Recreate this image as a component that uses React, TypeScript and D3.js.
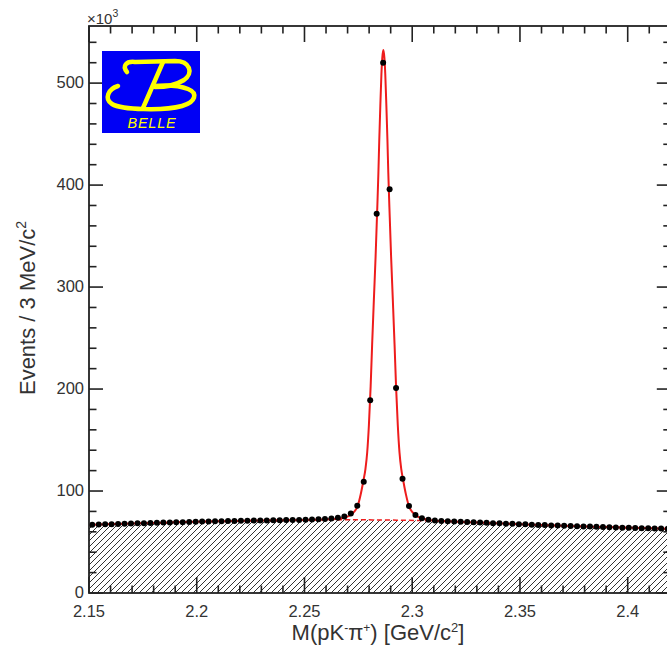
import React from "react";
import * as d3 from "d3";

const W = 667;
const H = 655;

// Histogram: 3 MeV bins starting at 2.150 GeV, counts in units of 10^3
const BIN_START = 2.15;
const BIN_WIDTH = 0.003;
const binCounts = [
  66.9, 67.1, 67.3, 67.5, 67.7, 67.9, 68.1, 68.3, 68.5, 68.7,
  68.9, 69.1, 69.2, 69.4, 69.5, 69.7, 69.8, 70.0, 70.1, 70.3,
  70.4, 70.5, 70.7, 70.8, 70.9, 71.0, 71.1, 71.2, 71.3, 71.4,
  71.5, 71.6, 71.7, 71.8, 72.0, 72.2, 72.5, 73.0, 73.7, 75.0,
  78.0, 85.5, 109, 189, 372, 520, 396, 201, 112, 85.3,
  76.5, 73.2, 71.8, 71.0, 70.6, 70.3, 70.1, 69.8, 69.6, 69.3,
  69.1, 68.8, 68.5, 68.3, 68.0, 67.8, 67.5, 67.3, 67.0, 66.8,
  66.6, 66.3, 66.1, 65.9, 65.7, 65.5, 65.3, 65.1, 64.9, 64.7,
  64.5, 64.3, 64.1, 64.0, 63.8, 63.6, 63.5, 63.3, 63.2, 63.0,
];

// Total fit (signal + background), sampled along the mass axis
const fitMass = [
  2.15, 2.17, 2.19, 2.21, 2.23, 2.25, 2.2616, 2.2666, 2.2691, 2.2716,
  2.2731, 2.2746, 2.2761, 2.2774, 2.2783, 2.2791, 2.2799, 2.2807, 2.2814, 2.2822,
  2.283, 2.2838, 2.2843, 2.2847, 2.2852, 2.2857, 2.2861, 2.2866, 2.2871, 2.2875,
  2.288, 2.2885, 2.2889, 2.2894, 2.2902, 2.291, 2.2918, 2.2925, 2.2933, 2.2941,
  2.2949, 2.2958, 2.2971, 2.2986, 2.3001, 2.3016, 2.3041, 2.3066, 2.31, 2.33,
  2.35, 2.37, 2.39, 2.41, 2.42,
];
const fitTotal = [
  66.8, 68.2, 69.3, 70.3, 71.1, 71.7, 72.2, 73.1, 74.3, 76.8,
  79.8, 84.8, 96.8, 110.8, 121.8, 137.8, 164.8, 202.4, 243.8, 287.4,
  329.8, 378.8, 411.8, 443.8, 478, 508.5, 524.5, 532.4, 524.5, 508.5,
  478, 443.8, 411.8, 378.8, 329.8, 287.4, 243.8, 202.4, 164.8, 137.6,
  121.6, 110.6, 96.5, 84.4, 79.3, 76.2, 73.5, 72.1, 71.0, 69.2,
  67.5, 65.9, 64.6, 63.5, 63.0,
];

// Background component of the fit
const bkgMass = [2.15, 2.17, 2.19, 2.21, 2.23, 2.25, 2.27, 2.29, 2.31, 2.33, 2.35, 2.37, 2.39, 2.41, 2.42];
const bkgLevel = [66.8, 68.2, 69.3, 70.3, 71.1, 71.6, 71.8, 71.5, 70.7, 69.2, 67.5, 65.9, 64.6, 63.5, 63.0];

const xMajorTicks = [2.15, 2.2, 2.25, 2.3, 2.35, 2.4];
const xTickLabels = ["2.15", "2.2", "2.25", "2.3", "2.35", "2.4"];
const yMajorTicks = [0, 100, 200, 300, 400, 500];
const yTickLabels = ["0", "100", "200", "300", "400", "500"];

const FONT = "'Liberation Sans', Arial, Helvetica, sans-serif";
const TEXT = "#333";
const RED = "#ee1c1c";

const x = d3.scaleLinear().domain([2.15, 2.42]).range([89, 670.8]);
const y = d3.scaleLinear().domain([0, 556]).range([593, 26]);

const X0 = x.range()[0];
const X1 = x.range()[1];
const Y0 = y.range()[0];
const Y1 = y.range()[1];

function BelleLogo({ left, top }: { left: number; top: number }) {
  return (
    <g transform={`translate(${left},${top})`}>
      <rect x={0} y={0} width={98} height={82} fill="#0000f5" />
      <g fill="none" stroke="#ffff00" strokeWidth={4.5} strokeLinecap="round">
        <path d="M25,21 C20,15 24,10 33,11 L73,10 C88,10 92,22 82,29 C74,34 64,36 53,36" />
        <path d="M61,11 L41,57" />
        <path d="M16,35 C6,38 2,48 10,53 C20,59 62,60 80,55 C94,51 96,42 86,38 C76,34 64,34 52,35" />
      </g>
      <text
        x={50}
        y={77}
        textAnchor="middle"
        fontFamily={FONT}
        fontStyle="italic"
        fontSize={14.5}
        letterSpacing={0.8}
        fill="#ffff00"
      >
        BELLE
      </text>
    </g>
  );
}

export default function App() {
  const points = binCounts.map((v, i) => ({ m: BIN_START + BIN_WIDTH * (i + 0.5), v }));
  const fitPts = fitMass.map((m, i) => [m, fitTotal[i]] as [number, number]);
  const bkgPts = bkgMass.map((m, i) => [m, bkgLevel[i]] as [number, number]);

  const line = d3
    .line<[number, number]>()
    .x((d) => x(d[0]))
    .y((d) => y(d[1]))
    .curve(d3.curveMonotoneX);
  const area = d3
    .area<[number, number]>()
    .x((d) => x(d[0]))
    .y0(y(0))
    .y1((d) => y(d[1]))
    .curve(d3.curveMonotoneX);

  const xMinor = d3.range(0, 28).map((k) => 2.15 + k * 0.01).filter((v) => !xMajorTicks.some((t) => Math.abs(t - v) < 1e-6));
  const yMinor = d3.range(0, 28).map((k) => k * 20).filter((v) => v % 100 !== 0);

  return (
    <svg
      width={W}
      height={H}
      style={{ position: "absolute", left: 0, top: 0, background: "#fff" }}
      fontFamily={FONT}
    >
      <defs>
        <clipPath id="plotArea">
          <rect x={X0} y={Y1} width={X1 - X0} height={Y0 - Y1} />
        </clipPath>
        <pattern id="hatch" patternUnits="userSpaceOnUse" width={6} height={6}>
          <path d="M-1,1 L1,-1 M0,6 L6,0 M5,7 L7,5" stroke="#333" strokeWidth={1} />
        </pattern>
      </defs>
      <rect x={0} y={0} width={W} height={H} fill="#fff" />

      <g clipPath="url(#plotArea)">
        <path d={area(bkgPts) || ""} fill="url(#hatch)" />
        <path d={line(bkgPts) || ""} fill="none" stroke={RED} strokeWidth={1.5} strokeDasharray="5,3" />
        <path d={line(fitPts) || ""} fill="none" stroke={RED} strokeWidth={2} />
        {points.map((p, i) => (
          <circle key={i} cx={x(p.m)} cy={y(p.v)} r={3} fill="#000" />
        ))}
      </g>

      {/* frame */}
      <rect x={X0} y={Y1} width={X1 - X0} height={Y0 - Y1} fill="none" stroke="#222" strokeWidth={1.8} />

      {/* x ticks, bottom and top */}
      <g stroke="#222" strokeWidth={1.6}>
        {xMajorTicks.map((t) => (
          <g key={`xm${t}`}>
            <line x1={x(t)} x2={x(t)} y1={Y0} y2={Y0 - 16} />
            <line x1={x(t)} x2={x(t)} y1={Y1} y2={Y1 + 16} />
          </g>
        ))}
        {xMinor.map((t) => (
          <g key={`xn${t}`}>
            <line x1={x(t)} x2={x(t)} y1={Y0} y2={Y0 - 7.5} />
            <line x1={x(t)} x2={x(t)} y1={Y1} y2={Y1 + 7.5} />
          </g>
        ))}
        {yMajorTicks.map((t) => (
          <g key={`ym${t}`}>
            <line x1={X0} x2={X0 + 14} y1={y(t)} y2={y(t)} />
            <line x1={X1} x2={X1 - 14} y1={y(t)} y2={y(t)} />
          </g>
        ))}
        {yMinor.map((t) => (
          <g key={`yn${t}`}>
            <line x1={X0} x2={X0 + 7.5} y1={y(t)} y2={y(t)} />
            <line x1={X1} x2={X1 - 7.5} y1={y(t)} y2={y(t)} />
          </g>
        ))}
      </g>

      {/* tick labels */}
      <g fill={TEXT} fontSize={16.5}>
        {xMajorTicks.map((t, i) => (
          <text key={`xl${t}`} x={x(t)} y={617} textAnchor="middle">
            {xTickLabels[i]}
          </text>
        ))}
        {yMajorTicks.map((t, i) => (
          <text key={`yl${t}`} x={84} y={y(t) + 5} textAnchor="end">
            {yTickLabels[i]}
          </text>
        ))}
      </g>

      {/* exponent for the y axis */}
      <text x={87} y={24} fill={TEXT} fontSize={15}>
        ×10
        <tspan dy={-7} fontSize={10.5}>3</tspan>
      </text>

      {/* axis titles */}
      <text x={378} y={640} textAnchor="middle" fill={TEXT} fontSize={22}>
        M(pK
        <tspan dy={-8} fontSize={12}>-</tspan>
        <tspan dy={8}>π</tspan>
        <tspan dy={-8} fontSize={12}>+</tspan>
        <tspan dy={8}>) [GeV/c</tspan>
        <tspan dy={-8} fontSize={13}>2</tspan>
        <tspan dy={8}>]</tspan>
      </text>
      <text
        transform="translate(35,308) rotate(-90)"
        textAnchor="middle"
        fill={TEXT}
        fontSize={22}
      >
        Events / 3 MeV/c
        <tspan dy={-9} fontSize={14}>2</tspan>
      </text>

      <BelleLogo left={102} top={51} />
    </svg>
  );
}
